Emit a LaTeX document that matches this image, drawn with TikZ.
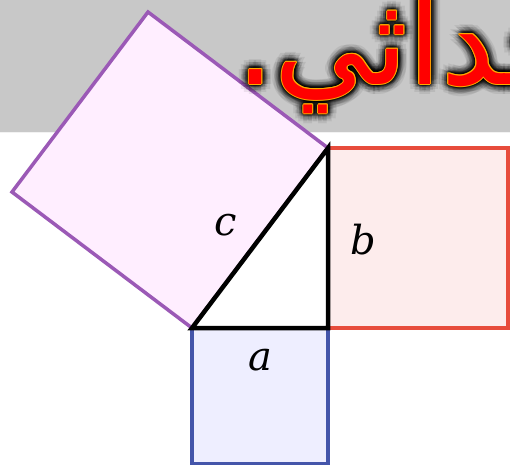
\documentclass[tikz,border=0pt]{standalone}
\usepackage{fontspec}
\usetikzlibrary{calc}
\TeXXeTstate=1
\newfontfamily\arabicfont[Script=Arabic]{DejaVu Sans}
\newfontfamily\labelfont{DejaVu Serif}
\definecolor{bandgray}{HTML}{C8C8C8}
\definecolor{purp}{HTML}{9B59B6}
\definecolor{purpfill}{HTML}{FFEEFF}
\definecolor{redl}{HTML}{E74C3C}
\definecolor{redfill}{HTML}{FDECEC}
\definecolor{bluel}{HTML}{4455AA}
\definecolor{bluefill}{HTML}{EEEEFF}
\definecolor{outl}{HTML}{FFAA00}
\tikzset{
  sqline/.style={line width=3.5pt, line join=miter},
  triline/.style={line width=4.5pt, line join=miter, black},
  lbl/.style={font=\labelfont\itshape\fontsize{40}{40}\selectfont, inner sep=0pt},
  artext/.style={font=\arabicfont\fontsize{120}{120}\selectfont, inner sep=0pt, anchor=base east},
}
\newcommand{\artxt}{\beginR حداثي.\endR}
\begin{document}
\begin{tikzpicture}[x=1pt,y=-1pt]
\useasboundingbox (0,0) rectangle (510,464);
\clip (0,0) rectangle (510,464);
\fill[bandgray] (0,0) rectangle (510,132);
\fill[white] (0,132) rectangle (510,464);
\draw[white!90!gray, line width=1pt] (0,132) -- (510,132);
% triangle vertices
\coordinate (A) at (192,328);
\coordinate (B) at (328,328);
\coordinate (C) at (328,148);
\coordinate (D) at (148,12);
\coordinate (E) at (12,192);
% squares
\draw[sqline, draw=bluel, fill=bluefill] (A) -- (B) -- (328,464) -- (192,464) -- cycle;
\draw[sqline, draw=redl, fill=redfill] (C) -- (508,148) -- (508,328) -- (B) -- cycle;
\draw[sqline, draw=purp, fill=purpfill] (A) -- (C) -- (D) -- (E) -- cycle;
% triangle
\draw[triline, fill=white] (A) -- (B) -- (C) -- cycle;
% labels
\node[lbl] (la) at (260,360) {a};
\node[lbl] (lb) at (363,240) {b};
\node[lbl] (lc) at (226,225) {c};
% Arabic heading with shadow and outline
\coordinate (T) at (579,84);
\foreach \r/\op in {10/0.07,7/0.1,4.5/0.15,2.5/0.2}{
  \foreach \ang in {0,30,...,330}{
    \node[artext, text=black, opacity=\op] at ($(T)+(\ang:\r)$) {\artxt};
  }
}
\foreach \ang in {0,45,...,315}{
  \node[artext, text=outl] at ($(T)+(\ang:1)$) {\artxt};
}
\node[artext, text=red] (title) at (T) {\artxt};
\end{tikzpicture}
\end{document}
